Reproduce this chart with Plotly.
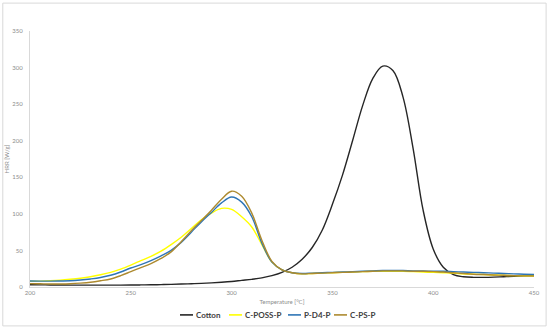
import plotly.graph_objects as go

# Temperature grid (°C)
temperature = list(range(200, 451, 5))

# HRR [W/g]
cotton = [3, 2.9, 2.8, 2.7, 2.6, 2.5, 2.5, 2.5, 2.5, 2.6,
          2.7, 2.85, 3, 3.3, 3.6, 4, 4.5, 5, 5.7, 6.5,
          7.5, 9, 10.5, 12.5, 15.5, 20, 27, 38, 54, 78,
          113, 153, 200, 248, 285, 302, 296, 260, 190, 105,
          52, 27, 17, 14, 13.2, 13.2, 13.5, 14, 14.5, 15.2, 16]

c_poss_p = [7.8, 8, 8.5, 9.3, 10.5, 12, 14, 16.7, 20, 24.5,
            30, 36, 42, 49, 58, 68, 80, 92, 101, 107.5,
            106, 96, 82, 58, 34, 23.5, 19.5, 18, 18.5, 19,
            19.5, 20, 20.5, 21, 21.5, 21.5, 21.5, 21.5, 21, 20.5,
            20, 19.5, 19, 18, 17.5, 17, 16.5, 16, 15.5, 15.2, 15]

p_d4_p = [8.2, 8, 8, 8.2, 8.5, 9.5, 11, 13, 16, 20.5,
          26, 30.5, 36, 42.5, 50, 61, 75, 89, 102, 115,
          123, 116, 96, 60, 34, 23.5, 19.5, 18.5, 19, 19.5,
          20, 20.5, 21, 21.5, 22, 22.5, 22.5, 22.5, 22, 22,
          21.5, 21.5, 21, 20.5, 20, 19.5, 19, 18.5, 18, 17.5, 17]

c_ps_p = [4.6, 4.4, 4.2, 4.2, 4.5, 5.3, 6.5, 8.5, 11, 15.5,
          21, 26.5, 32, 39, 48, 62, 77, 91, 105, 120,
          131, 124, 101, 64, 35, 23.5, 19.5, 18, 18.5, 19,
          19.5, 20, 20.5, 21, 21.5, 22, 22, 22, 21.5, 21.5,
          21, 20.5, 19.5, 18.5, 17.5, 17, 16.5, 16, 15.5, 15.2, 15]

series = [
    ('Cotton', cotton, '#262626'),
    ('C-POSS-P', c_poss_p, '#FFFF00'),
    ('P-D4-P', p_d4_p, '#2E75B6'),
    ('C-PS-P', c_ps_p, '#AD8A2F'),
]

fig = go.Figure()
for name, vals, color in series:
    fig.add_trace(go.Scatter(x=temperature, y=vals,
                             mode='lines',
                             name=name,
                             showlegend=False,
                             line=dict(color=color, width=1.4, shape='spline', smoothing=1.0)))

# compact Excel-style legend below the plot: short swatch + label per series
legend_x = [180, 229, 288, 334]   # left edge of each swatch, px
shapes = []
annotations = []
for (name, vals, color), lx in zip(series, legend_x):
    x0 = (lx - 30) / 504
    x1 = (lx + 13 - 30) / 504
    shapes.append(dict(type='line', xref='paper', yref='paper',
                       x0=x0, x1=x1, y0=-0.109, y1=-0.109,
                       line=dict(color=color, width=1.6)))
    annotations.append(dict(text=name, xref='paper', yref='paper',
                            x=x1 + 1 / 504, y=-0.109, xanchor='left', yanchor='middle',
                            showarrow=False,
                            font=dict(size=8, color='#404040', family='Lato', weight='bold')))

# light grey chart border
shapes.append(dict(type='rect', xref='paper', yref='paper',
                   x0=-0.054, x1=1.024, y0=-0.152, y1=1.109,
                   line=dict(color='#D9D9D9', width=1)))

fig.update_layout(
    autosize=False,
    width=550,
    height=330,
    plot_bgcolor='white',
    paper_bgcolor='white',
    margin=dict(l=30, r=16, t=31, b=43),
    font=dict(family='Lato', color='#595959'),
    showlegend=False,
    shapes=shapes,
    annotations=annotations,
)

fig.update_xaxes(
    range=[200, 450],
    tickvals=[200, 250, 300, 350, 400, 450],
    showline=True,
    linecolor='#D9D9D9',
    showgrid=False,
    zeroline=False,
    automargin=False,
    tickfont=dict(size=6, color='#8C8C8C'),
    title=dict(text='Temperature [°C]', font=dict(size=6, color='#8C8C8C'), standoff=4)
)
fig.update_yaxes(
    range=[0, 350],
    tickvals=[0, 50, 100, 150, 200, 250, 300, 350],
    showline=True,
    linecolor='#D9D9D9',
    showgrid=False,
    zeroline=False,
    automargin=False,
    ticklabelstandoff=5,
    tickfont=dict(size=6, color='#8C8C8C'),
    title=dict(text='HRR [W/g]', font=dict(size=6, color='#8C8C8C'), standoff=2)
)

# drop the browser's default page margin so the figure sits at the window origin
fig.write_html("out.html", config={'displayModeBar': False},
               post_script="document.body.style.margin='0';")
